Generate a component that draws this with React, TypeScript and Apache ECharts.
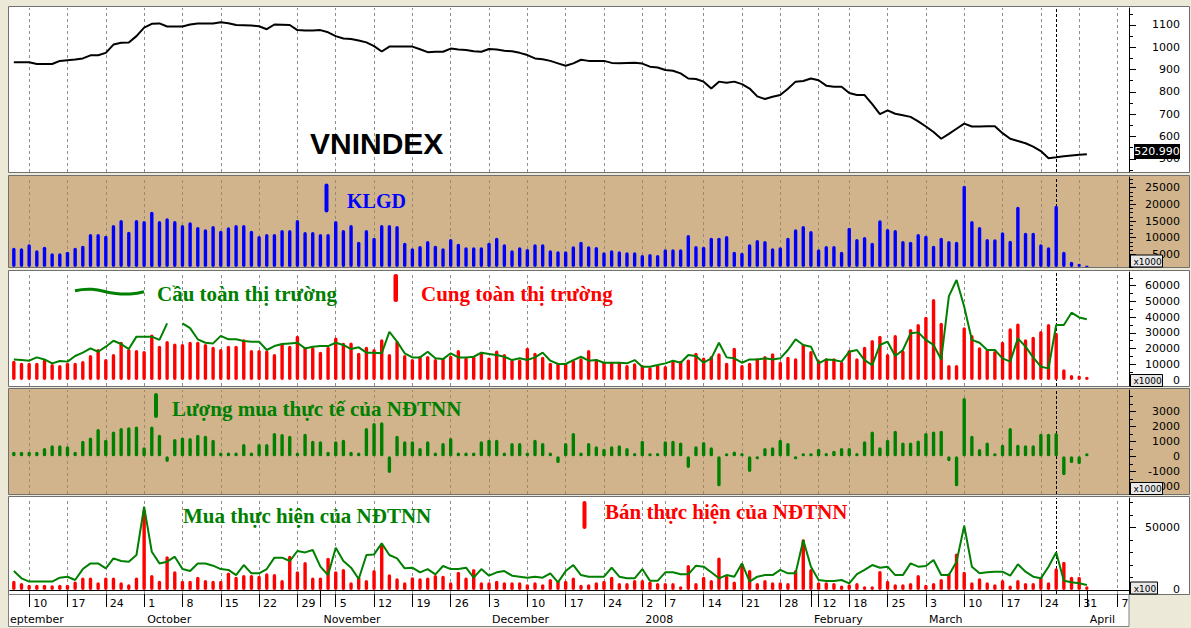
import React, { useEffect, useRef } from "react";
import * as echarts from "echarts";

// ---------- trading days ----------
const SEP07 = [6, 7, 10, 11, 12, 13, 14, 17, 18, 19, 20, 21, 24, 25, 26, 27, 28];
const OCT07 = [1, 2, 3, 4, 5, 8, 9, 10, 11, 12, 15, 16, 17, 18, 19, 22, 23, 24, 25, 26, 29, 30, 31];
const NOV07 = [1, 2, 5, 6, 7, 8, 9, 12, 13, 14, 15, 16, 19, 20, 21, 22, 23, 26, 27, 28, 29, 30];
const DEC07 = [3, 4, 5, 6, 7, 10, 11, 12, 13, 14, 17, 18, 19, 20, 21, 24, 25, 26, 27, 28];
const JAN08 = [2, 3, 4, 7, 8, 9, 10, 11, 14, 15, 16, 17, 18, 21, 22, 23, 24, 25, 28, 29, 30, 31];
const FEB08 = [1, 12, 13, 14, 15, 18, 19, 20, 21, 22, 25, 26, 27, 28, 29];
const MAR08 = [3, 4, 5, 6, 7, 10, 11, 12, 13, 14, 17, 18, 19, 20, 21, 24, 25, 26, 27, 28, 31];
const APR08 = [1, 2, 3, 4, 7, 8];
const MONTH_DAYS: [number, number, number[]][] = [
  [2007, 9, SEP07], [2007, 10, OCT07], [2007, 11, NOV07], [2007, 12, DEC07],
  [2008, 1, JAN08], [2008, 2, FEB08], [2008, 3, MAR08], [2008, 4, APR08],
];
const MONTH_NAMES: Record<number, string> = {
  9: "September", 10: "October", 11: "November", 12: "December",
  1: "2008", 2: "February", 3: "March", 4: "April",
};
const pad = (n: number) => (n < 10 ? "0" + n : "" + n);
const CATS: string[] = [];
MONTH_DAYS.forEach(([y, m, ds]) => ds.forEach((d) => CATS.push(`${y}-${pad(m)}-${pad(d)}`)));
const toDate = (s: string) => new Date(s + "T00:00:00Z");
const isWeek = (i: number) => {
  if (i <= 0) return false;
  const a = toDate(CATS[i - 1]), b = toDate(CATS[i]);
  return b.getUTCDay() <= a.getUTCDay() || b.getTime() - a.getTime() >= 7 * 864e5;
};
const isMonth = (i: number) => i > 0 && CATS[i].slice(5, 7) !== CATS[i - 1].slice(5, 7);
const WEEK_IDX = CATS.map((_, i) => i).filter(isWeek);
const MARK_IDX = 136; // dashed cursor line (2008-03-26)

// ---------- series values ----------
const VNINDEX = [
  933, 933, 933, 925, 925, 925, 939, 942, 945, 950,
  964, 964, 975, 1012, 1020, 1021, 1050, 1088, 1105, 1107,
  1093, 1093, 1093, 1102, 1107, 1107, 1107, 1112, 1108, 1100,
  1099, 1098, 1094, 1081, 1102, 1101, 1100, 1077, 1075, 1075,
  1077, 1067, 1050, 1039, 1037, 1030, 1022, 1005, 981, 1003,
  1003, 1003, 1003, 991, 978, 980, 980, 994, 990, 988,
  982, 980, 992, 990, 984, 982, 975, 965, 950, 946,
  939, 928, 917, 928, 944, 939, 939, 939, 930, 928,
  930, 931, 927, 913, 909, 898, 895, 883, 860, 858,
  846, 815, 846, 841, 846, 835, 815, 780, 768, 778,
  786, 814, 846, 849, 860, 852, 828, 823, 823, 795,
  786, 786, 745, 700, 717, 702, 695, 688, 668, 645,
  620, 590, 612, 635, 658, 645, 645, 646, 646, 615,
  590, 580, 570, 555, 535, 503, 507, 512, 515, 518, 521,
];
const KLGD = [
  7000, 6800, 8000, 6200, 7300, 5300, 5300, 5800, 7000, 7600,
  11100, 11100, 10600, 13800, 15300, 11800, 15300, 15000, 17800, 15000,
  15800, 15000, 13800, 14600, 13200, 12500, 13500, 12100, 13100, 13800,
  13800, 12100, 10500, 11100, 11100, 12300, 12300, 15300, 11700, 11700,
  11100, 11100, 15000, 12300, 13800, 8800, 12300, 10000, 13800, 13800,
  13500, 8500, 6800, 7500, 9000, 7600, 6800, 9600, 8200, 7100,
  7100, 7100, 8500, 10000, 8000, 6200, 7100, 6600, 8000, 8000,
  6200, 5900, 5900, 7400, 8800, 7400, 7200, 5600, 6200, 5900,
  5600, 5600, 4800, 5100, 4800, 6500, 6500, 6500, 10800, 7500,
  7300, 10000, 10000, 10500, 5800, 5500, 8000, 9300, 9000, 6800,
  7100, 10000, 12500, 13500, 12000, 6500, 7500, 7500, 5800, 13000,
  9600, 10200, 8500, 15200, 12600, 12300, 9000, 8800, 11100, 10600,
  7600, 10000, 9000, 8800, 25600, 15000, 13200, 9600, 9500, 11600,
  9100, 19300, 11500, 11500, 8000, 7100, 19600, 5800, 2800, 2200, 1600,
];
const CUNG = [
  12300, 11000, 11000, 11000, 13100, 10200, 9500, 11000, 11000, 12100,
  15900, 19700, 13300, 16500, 24400, 19700, 19100, 18400, 29000, 21800,
  24800, 23300, 22900, 24400, 24400, 22900, 21200, 19700, 21800, 21800,
  25900, 19100, 19100, 18700, 16500, 23300, 21800, 28100, 20800, 20800,
  18000, 21200, 27000, 23700, 23900, 17400, 21200, 19700, 25900, 16500,
  24800, 15900, 13300, 15300, 15300, 13300, 13800, 15500, 19100, 14400,
  15300, 18000, 14400, 18700, 16500, 12700, 13100, 20600, 17400, 14800,
  11000, 11000, 10600, 12700, 13800, 19100, 13300, 11700, 11700, 11700,
  9500, 10600, 9500, 8100, 9500, 8900, 12100, 12300, 13100, 17400,
  14400, 15300, 17000, 11000, 20600, 9500, 11000, 13800, 15300, 17000,
  11700, 14800, 13800, 22900, 18400, 12700, 13800, 13800, 11700, 19100,
  13800, 21200, 25500, 28200, 16500, 28600, 18700, 32500, 35600, 40300,
  51500, 36400, 9500, 9500, 33500, 28600, 20800, 19600, 18500, 24400,
  32900, 36000, 25900, 27600, 31200, 35600, 30100, 6800, 3200, 2800, 2100,
];
const CAU = [
  13100, 12700, 12300, 14400, 13100, 10600, 12100, 11700, 15300, 17400,
  20100, 18000, 21200, 25000, 22900, 19700, 27600, 27600, 27600, 25500,
  36000, null, 36000, 33000, 25900, 23700, 23300, 28100, 25900, 25900,
  24800, 24400, 24400, 19100, 21600, 22900, 23300, 23700, 20100, 21200,
  21600, 21600, 23700, 22300, 19700, 20800, 17400, 17400, 17000, 30700,
  24400, 17000, 14400, 14400, 18000, 13800, 13300, 17000, 14400, 14400,
  14800, 17400, 16500, 15900, 14800, 12700, 13800, 12700, 14400, 17400,
  12300, 10200, 10200, 12700, 14800, 12300, 12700, 11000, 11000, 11000,
  10600, 12700, 8500, 8500, 9500, 10600, 12300, 11000, 15900, 15300,
  11000, 13800, 23700, 14400, 13800, 11000, 13100, 13100, 13800, 13100,
  13800, 19100, 25900, 22300, 21200, 10600, 13100, 12700, 11700, 18000,
  19100, 12700, 9500, 22300, 24400, 15300, 19100, 29700, 30300, 25500,
  22300, 13000, 53400, 63600, 46600, 25500, 23700, 19100, 19100, 13800,
  11700, 26500, 21200, 14400, 8500, 7400, 35000, 35000, 42800, 39800, 38600,
];
const NET = [
  300, 300, 300, 300, 560, 740, 740, 670, 300, 1040,
  1260, 1820, 1110, 1660, 1890, 1930, 1980, 600, 1980, 1440,
  -380, 1150, 1260, 1220, 1440, 1370, 1110, 250, 250, 250,
  820, 250, 820, 820, 1550, 1480, 1370, 250, 1510, 1040,
  1000, 300, 1000, 1110, 300, 250, 1890, 2220, 2270, -1110,
  1370, 1000, 1000, 560, 1000, 250, 890, 1220, 250, 250,
  250, 1000, 1110, 1110, 250, 890, 890, 250, 1110, 890,
  250, -450, 890, 1550, 250, 890, 670, 510, 670, 740,
  560, 220, 1040, 0, 220, 1000, 1040, 930, -780, 670,
  960, 600, -2000, 0, 330, 220, -1040, -110, 560, 600,
  1110, 890, -110, 0, 0, 510, 220, 380, 560, 560,
  220, 1000, 1660, 600, 1110, 1700, 930, 930, 1060, 1550,
  1660, 1700, -330, -2000, 3890, 1370, 490, 930, 150, 780,
  1890, 780, 740, 740, 1510, 1510, 1550, -1260, -450, -520, 100,
];
const BAN = [
  7300, 5600, 4200, 4200, 4200, 3700, 4200, 4200, 6800, 9900,
  9900, 6100, 9900, 9900, 6100, 4500, 9900, 63800, 11900, 7300,
  27000, 15000, 7300, 7300, 10600, 8000, 7300, 7300, 13900, 10600,
  11900, 11900, 11400, 13300, 12800, 8000, 27300, 15000, 22300, 9900,
  9900, 25800, 15000, 16700, 6100, 10600, 8000, 15900, 35800, 12500,
  9300, 6100, 10100, 9300, 9900, 11900, 11400, 6100, 14600, 9900,
  16700, 6100, 6100, 7300, 6100, 6100, 6100, 4500, 6100, 4500,
  8800, 7300, 7300, 9900, 4200, 4500, 6100, 7300, 10600, 5600,
  5600, 8000, 8000, 6700, 5600, 5600, 5600, 2900, 19900, 5600,
  10600, 8000, 26000, 11400, 6700, 21200, 16000, 5600, 8000, 6100,
  6100, 5600, 16000, 40400, 16700, 6100, 6100, 5600, 3500, 4500,
  5600, 2900, 2900, 15100, 7300, 4500, 4500, 5600, 11900, 4200,
  5600, 8800, 13300, 29200, 14600, 6100, 9300, 6100, 4500, 8000,
  3500, 8000, 5600, 5600, 10600, 6100, 17300, 22600, 10600, 10600, 2900,
];
const MUA = [
  15100, 9300, 6700, 6700, 6700, 6700, 9800, 10600, 8000, 16700,
  21200, 21200, 17300, 25200, 23100, 22600, 27900, 66400, 30500, 21200,
  22600, 26600, 16700, 15100, 21200, 21200, 19400, 16700, 16000, 11900,
  19900, 13300, 13300, 16700, 25800, 25800, 23100, 31100, 30000, 31900,
  18600, 11900, 33700, 23100, 17800, 8800, 27900, 28400, 37200, 27900,
  25200, 17300, 17800, 14100, 16700, 12500, 19100, 16700, 16700, 17800,
  9800, 16700, 11400, 14100, 15100, 11400, 10600, 9800, 10600, 9800,
  13300, 6100, 15100, 19900, 11900, 10600, 10600, 10600, 17800, 10600,
  9300, 9300, 16700, 7300, 7300, 14100, 14100, 12500, 12500, 19400,
  18600, 14100, 9300, 11900, 10600, 21200, 6700, 10600, 11900, 11900,
  16000, 13300, 13300, 39900, 18600, 8000, 7200, 7200, 8000, 5300,
  12700, 16000, 19900, 17800, 18600, 11900, 11900, 21200, 18600, 19100,
  23900, 11900, 11900, 22600, 51300, 18600, 13300, 14100, 14600, 14600,
  11400, 20500, 14600, 10600, 9300, 18600, 30000, 7300, 6100, 5300, 4000,
];

// ---------- axis ticks ----------
const Y_RANGE: [number, number][] = [[441, 1176], [1200, 28200], [-3800, 68700], [-2510, 4420], [-3200, 73400]];
const Y_LABELS = [
  [500, 600, 700, 800, 900, 1000, 1100],
  [5000, 10000, 15000, 20000, 25000],
  [0, 10000, 20000, 30000, 40000, 50000, 60000],
  [-2000, -1000, 0, 1000, 2000, 3000],
  [0, 50000],
];
const Y_MINOR = [
  [450, 550, 650, 750, 850, 950, 1050, 1150],
  [1250, 2500, 3750, 6250, 7500, 8750, 11250, 12500, 13750, 16250, 17500, 18750, 21250, 22500, 23750, 26250, 27500],
  [5000, 15000, 25000, 35000, 45000, 55000, 65000],
  [-2500, -1500, -500, 500, 1500, 2500, 3500, 4000],
  [10000, 20000, 30000, 40000, 60000, 70000],
];

const PANELS = [
  { top: 8, h: 164, bg: "#FFFFFF" },
  { top: 177, h: 90, bg: "#D2B48C" },
  { top: 272, h: 114, bg: "#FFFFFF" },
  { top: 390, h: 104, bg: "#D2B48C" },
  { top: 498, h: 96, bg: "#FFFFFF" },
];
const GL = 10, GR = 62, PR = 1129;
const AX_FONT = "DejaVu Sans";
const SERIF = "Liberation Serif";

function buildOption(): any {
  const grids = PANELS.map((p) => ({ left: GL, right: GR, top: p.top, height: p.h }));
  const xAxes: any[] = PANELS.map((_, k) => ({
    type: "category", gridIndex: k, data: CATS, boundaryGap: true,
    axisLine: { show: k === 4, lineStyle: { color: "#000", width: 1 } },
    axisTick: {
      show: k === 4, alignWithLabel: true, length: 17,
      interval: (i: number) => isWeek(i) || isMonth(i), lineStyle: { color: "#000" },
    },
    axisLabel: {
      show: k === 4, interval: (i: number) => isWeek(i),
      formatter: (v: string) => String(Number(v.slice(8, 10))),
      align: "left", padding: [0, 0, 0, 4], margin: 4,
      fontFamily: AX_FONT, fontSize: 11, color: "#000",
    },
    splitLine: { show: false },
  }));
  xAxes.push({
    type: "category", gridIndex: 4, data: CATS, boundaryGap: true, position: "bottom", offset: 17,
    axisLine: { show: true, lineStyle: { color: "#000", width: 1 } },
    axisTick: { show: true, alignWithLabel: true, length: 16, interval: (i: number) => isMonth(i), lineStyle: { color: "#000" } },
    axisLabel: {
      show: true, interval: (i: number) => isMonth(i),
      formatter: (v: string) => MONTH_NAMES[Number(v.slice(5, 7))],
      align: "left", padding: [0, 0, 0, 3], margin: 3,
      fontFamily: AX_FONT, fontSize: 11, color: "#000",
    },
    splitLine: { show: false },
  });

  const yAxes: any[] = [];
  PANELS.forEach((_, k) => {
    const [mn, mx] = Y_RANGE[k];
    yAxes.push({
      type: "value", gridIndex: k, position: "right", min: mn, max: mx,
      splitLine: { show: false },
      axisLine: { show: true, lineStyle: { color: "#000" } },
      axisTick: { show: true, customValues: Y_LABELS[k], length: 7, lineStyle: { color: "#000" } },
      axisLabel: {
        show: true, customValues: Y_LABELS[k], formatter: (v: number) => String(v),
        align: "right", margin: 51, fontFamily: AX_FONT, fontSize: 11, color: "#000",
      },
    });
    yAxes.push({
      type: "value", gridIndex: k, position: "right", min: mn, max: mx,
      splitLine: { show: false }, axisLine: { show: false },
      axisTick: { show: true, customValues: Y_MINOR[k], length: 4, lineStyle: { color: "#000" } },
      axisLabel: { show: false },
    });
  });

  const guide = (k: number) => ({
    type: "line", xAxisIndex: k, yAxisIndex: 2 * k, data: CATS.map(() => null), z: 2, silent: true,
    symbol: "none",
    markLine: {
      z: 2, symbol: ["none", "none"], silent: true, label: { show: false },
      lineStyle: { type: [3, 3], color: k === 1 || k === 3 ? "#9A8A70" : "#8C8C8C", width: 1 },
      data: [
        ...WEEK_IDX.map((i) => ({ xAxis: CATS[i] })),
        { xAxis: CATS[MARK_IDX], lineStyle: { type: [3, 2], color: "#000", width: 1 } },
      ],
    },
  });

  const bar = (k: number, data: number[], color: string, extra: any = {}) => ({
    type: "bar", xAxisIndex: k, yAxisIndex: 2 * k, data, barWidth: 3.4, z: 3,
    itemStyle: { color, borderRadius: 1.7 }, ...extra,
  });
  const line = (k: number, data: (number | null)[], color: string, width: number) => ({
    type: "line", xAxisIndex: k, yAxisIndex: 2 * k, data, symbol: "none", z: 4,
    connectNulls: false, lineStyle: { color, width }, itemStyle: { color },
  });

  const series: any[] = [
    guide(0), guide(1), guide(2), guide(3), guide(4),
    line(0, VNINDEX, "#000000", 2),
    bar(1, KLGD, "#0000FF"),
    bar(2, CUNG, "#FF0000"),
    line(2, CAU, "#008000", 2),
    bar(3, NET, "#008000", { barMinHeight: 3 }),
    bar(4, BAN, "#FF0000"),
    line(4, MUA, "#008000", 2),
  ];

  const graphic: any[] = [];
  PANELS.forEach((p) => {
    graphic.push({
      type: "rect", z: -10, silent: true,
      shape: { x: 8.5, y: p.top - 1.5, width: 1181, height: p.h + 2 },
      style: { fill: p.bg, stroke: "#707070", lineWidth: 1 },
    });
  });
  graphic.push({ type: "rect", z: -10, silent: true, shape: { x: 8.5, y: 594.5, width: PR - 8.5, height: 32 }, style: { fill: "#FFFFFF", stroke: "#808080", lineWidth: 1 } });
  graphic.push({ type: "text", z: 10, x: 10, y: 619, style: { text: "eptember", font: `11px "${AX_FONT}"`, fill: "#000", verticalAlign: "middle" } });

  const LEG = `bold 21px "${SERIF}"`;
  graphic.push({ type: "text", z: 10, x: 310, y: 143, style: { text: "VNINDEX", font: 'bold 30px "Liberation Sans"', fill: "#000", verticalAlign: "middle" } });
  graphic.push({ type: "rect", z: 10, shape: { x: 324.5, y: 183.5, width: 4, height: 29, r: 2 }, style: { fill: "#0000FF" } });
  graphic.push({ type: "text", z: 10, x: 347, y: 200.5, style: { text: "KLGD", font: `bold 20px "${SERIF}"`, fill: "#0000FF", verticalAlign: "middle" } });
  graphic.push({
    type: "polyline", z: 10, shape: { points: [[75, 290.7], [92, 289.3], [114, 293.3], [130, 294], [144, 291.7]], smooth: 0.5 },
    style: { stroke: "#008000", lineWidth: 3, fill: "none" },
  });
  graphic.push({ type: "text", z: 10, x: 157, y: 293.5, style: { text: "Cầu toàn thị trường", font: LEG, fill: "#008000", verticalAlign: "middle" } });
  graphic.push({ type: "rect", z: 10, shape: { x: 393.5, y: 274, width: 4.5, height: 28, r: 2 }, style: { fill: "#FF0000" } });
  graphic.push({ type: "text", z: 10, x: 421, y: 293.5, style: { text: "Cung toàn thị trường", font: LEG, fill: "#FF0000", verticalAlign: "middle" } });
  graphic.push({ type: "rect", z: 10, shape: { x: 154, y: 393, width: 4, height: 25, r: 2 }, style: { fill: "#008000" } });
  graphic.push({ type: "text", z: 10, x: 172, y: 409, style: { text: "Lượng mua thực tế của NĐTNN", font: LEG, fill: "#008000", verticalAlign: "middle" } });
  graphic.push({ type: "text", z: 10, x: 183, y: 516, style: { text: "Mua thực hiện của NĐTNN", font: LEG, fill: "#008000", verticalAlign: "middle" } });
  graphic.push({ type: "rect", z: 10, shape: { x: 582.5, y: 501, width: 4, height: 28, r: 2 }, style: { fill: "#FF0000" } });
  graphic.push({ type: "text", z: 10, x: 605, y: 511.5, style: { text: "Bán thực hiện của NĐTNN", font: LEG, fill: "#FF0000", verticalAlign: "middle" } });

  const unitBox = (y: number, text: string, w: number) => {
    graphic.push({ type: "rect", z: 11, shape: { x: 1130.5, y, width: w, height: 12 }, style: { fill: "#E8E8E8", stroke: "#000", lineWidth: 1 } });
    graphic.push({ type: "text", z: 12, x: 1131.5 + w / 2, y: y + 6.5, style: { text, font: `9px "${AX_FONT}"`, fill: "#000", align: "center", verticalAlign: "middle" } });
  };
  unitBox(255, "x1000", 32);
  unitBox(374.5, "x1000", 32);
  unitBox(482.5, "x1000", 32);
  unitBox(582, "x100", 27);

  graphic.push({ type: "rect", z: 11, shape: { x: 1134, y: 144, width: 46, height: 15 }, style: { fill: "#000" } });
  graphic.push({ type: "text", z: 12, x: 1157, y: 151.5, style: { text: "520.990", font: `11px "${AX_FONT}"`, fill: "#FFF", align: "center", verticalAlign: "middle" } });

  return {
    animation: false,
    backgroundColor: "#ECE9D8",
    grid: grids,
    xAxis: xAxes,
    yAxis: yAxes,
    series,
    graphic,
  };
}

export default function App() {
  const ref = useRef<HTMLDivElement>(null);
  useEffect(() => {
    if (!ref.current) return;
    const chart = echarts.init(ref.current, null, { renderer: "svg" });
    chart.setOption(buildOption());
    return () => chart.dispose();
  }, []);
  return (
    <div
      ref={ref}
      style={{ position: "fixed", left: 0, top: 0, width: 1191, height: 628 }}
    />
  );
}
